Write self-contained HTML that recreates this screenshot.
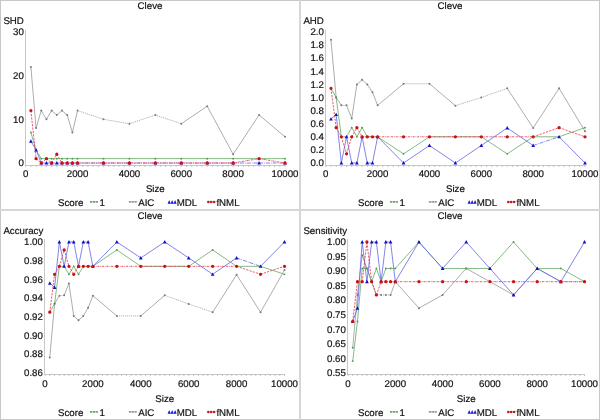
<!DOCTYPE html>
<html><head><meta charset="utf-8"><style>
html,body{margin:0;padding:0;background:#fff;width:600px;height:420px;overflow:hidden;}
svg{display:block;}
.t{will-change:transform;}
svg text{font-family:"Liberation Sans",sans-serif;font-size:9.7px;fill:#141414;stroke:#141414;stroke-width:0.2px;text-rendering:geometricPrecision;}
</style></head><body>
<svg width="600" height="420" viewBox="0 0 600 420" style="will-change:transform">
<rect width="600" height="420" fill="#fff"/>
<path d="M25.5 29.5V166" fill="none" stroke="#c8c8c8" stroke-width="1"/>
<path d="M25 165.5H285.5" fill="none" stroke="#c8c8c8" stroke-width="1"/>
<path d="M25.7 165.5v1.4M30.89 165.5v1.4M36.07 165.5v1.4M41.26 165.5v1.4M46.44 165.5v1.4M51.63 165.5v1.4M56.82 165.5v1.4M62 165.5v1.4M67.19 165.5v1.4M72.37 165.5v1.4M77.56 165.5v1.4M82.75 165.5v1.4M87.93 165.5v1.4M93.12 165.5v1.4M98.3 165.5v1.4M103.49 165.5v1.4M108.68 165.5v1.4M113.86 165.5v1.4M119.05 165.5v1.4M124.23 165.5v1.4M129.42 165.5v1.4M134.61 165.5v1.4M139.79 165.5v1.4M144.98 165.5v1.4M150.16 165.5v1.4M155.35 165.5v1.4M160.54 165.5v1.4M165.72 165.5v1.4M170.91 165.5v1.4M176.09 165.5v1.4M181.28 165.5v1.4M186.47 165.5v1.4M191.65 165.5v1.4M196.84 165.5v1.4M202.02 165.5v1.4M207.21 165.5v1.4M212.4 165.5v1.4M217.58 165.5v1.4M222.77 165.5v1.4M227.95 165.5v1.4M233.14 165.5v1.4M238.33 165.5v1.4M243.51 165.5v1.4M248.7 165.5v1.4M253.88 165.5v1.4M259.07 165.5v1.4M264.26 165.5v1.4M269.44 165.5v1.4M274.63 165.5v1.4M279.81 165.5v1.4M285 165.5v1.4" stroke="#b4b4b4" stroke-width="0.9"/>
<text x="150" y="9.3" text-anchor="middle">Cleve</text>
<text x="3.4" y="24.2">SHD</text>
<text x="23.9" y="166.2" text-anchor="end">0</text>
<text x="23.9" y="122.53" text-anchor="end">10</text>
<text x="23.9" y="78.87" text-anchor="end">20</text>
<text x="23.9" y="35.2" text-anchor="end">30</text>
<text x="25.7" y="176.9" text-anchor="middle">0</text>
<text x="77.56" y="176.9" text-anchor="middle">2000</text>
<text x="129.42" y="176.9" text-anchor="middle">4000</text>
<text x="181.28" y="176.9" text-anchor="middle">6000</text>
<text x="233.14" y="176.9" text-anchor="middle">8000</text>
<text x="285" y="176.9" text-anchor="middle">10000</text>
<text x="155.35" y="191.6" text-anchor="middle">Size</text>
<text x="58" y="206.3">Score</text>
<path d="M90 201.9h7.9" stroke="#6fa56f" stroke-width="1.8" stroke-dasharray="2.3 0.5"/>
<text x="99.6" y="206.3">1</text>
<path d="M128.8 201.9h8.2" stroke="#9c9c9c" stroke-width="1.8" stroke-dasharray="2.4 0.4"/>
<text x="138.2" y="206.3">AIC</text>
<path d="M167.6 203.7l1.6 -3.6l1.6 3.6zM170.55 203.7l1.6 -3.6l1.6 3.6zM173.5 203.7l1.6 -3.6l1.6 3.6z" fill="#1818d0"/>
<text x="176.8" y="206.3">MDL</text>
<path d="M207 201.9h8.4" stroke="#f0a0a0" stroke-width="1"/>
<circle cx="208.3" cy="201.9" r="1.25" fill="#c01818"/>
<circle cx="211.2" cy="201.9" r="1.25" fill="#c01818"/>
<circle cx="214.1" cy="201.9" r="1.25" fill="#c01818"/>
<text x="216.4" y="206.3">fNML</text>
<path d="M30.89 66.93L36.07 128.07M36.07 128.07L41.26 110.6M41.26 110.6L46.44 119.33M46.44 119.33L51.63 110.6M51.63 110.6L56.82 114.97M56.82 114.97L62 110.6M62 110.6L67.19 114.97M67.19 114.97L72.37 132.43M72.37 132.43L77.56 110.6M181.28 123.7L207.21 106.23M207.21 106.23L233.14 154.27M233.14 154.27L259.07 114.97M259.07 114.97L285 136.8" fill="none" stroke="#989898" stroke-width="0.8"/>
<path d="M77.56 110.6L103.49 119.33M103.49 119.33L129.42 123.7M129.42 123.7L155.35 114.97M155.35 114.97L181.28 123.7" fill="none" stroke="#989898" stroke-width="0.8" stroke-dasharray="1.1 0.9"/>
<path d="M29.89 66.93a1.0 1.0 0 1 0 2 0a1.0 1.0 0 1 0 -2 0zM35.07 128.07a1.0 1.0 0 1 0 2 0a1.0 1.0 0 1 0 -2 0zM40.26 110.6a1.0 1.0 0 1 0 2 0a1.0 1.0 0 1 0 -2 0zM45.44 119.33a1.0 1.0 0 1 0 2 0a1.0 1.0 0 1 0 -2 0zM50.63 110.6a1.0 1.0 0 1 0 2 0a1.0 1.0 0 1 0 -2 0zM55.82 114.97a1.0 1.0 0 1 0 2 0a1.0 1.0 0 1 0 -2 0zM61 110.6a1.0 1.0 0 1 0 2 0a1.0 1.0 0 1 0 -2 0zM66.19 114.97a1.0 1.0 0 1 0 2 0a1.0 1.0 0 1 0 -2 0zM71.37 132.43a1.0 1.0 0 1 0 2 0a1.0 1.0 0 1 0 -2 0zM76.56 110.6a1.0 1.0 0 1 0 2 0a1.0 1.0 0 1 0 -2 0zM102.49 119.33a1.0 1.0 0 1 0 2 0a1.0 1.0 0 1 0 -2 0zM128.42 123.7a1.0 1.0 0 1 0 2 0a1.0 1.0 0 1 0 -2 0zM154.35 114.97a1.0 1.0 0 1 0 2 0a1.0 1.0 0 1 0 -2 0zM180.28 123.7a1.0 1.0 0 1 0 2 0a1.0 1.0 0 1 0 -2 0zM206.21 106.23a1.0 1.0 0 1 0 2 0a1.0 1.0 0 1 0 -2 0zM232.14 154.27a1.0 1.0 0 1 0 2 0a1.0 1.0 0 1 0 -2 0zM258.07 114.97a1.0 1.0 0 1 0 2 0a1.0 1.0 0 1 0 -2 0zM284 136.8a1.0 1.0 0 1 0 2 0a1.0 1.0 0 1 0 -2 0z" fill="#7a7a7a"/>
<path d="M30.89 132.43L36.07 149.9M36.07 149.9L41.26 158.63M41.26 158.63L46.44 158.63M46.44 158.63L51.63 158.63M51.63 158.63L56.82 158.63M56.82 158.63L62 158.63M62 158.63L67.19 158.63M67.19 158.63L72.37 158.63M72.37 158.63L77.56 158.63M77.56 158.63L103.49 158.63M103.49 158.63L129.42 158.63M129.42 158.63L155.35 158.63M155.35 158.63L181.28 158.63M181.28 158.63L207.21 158.63M207.21 158.63L233.14 158.63M233.14 158.63L259.07 158.63M259.07 158.63L285 158.63" fill="none" stroke="#64aa64" stroke-width="0.8"/>
<path d="M29.99 132.43a0.9 0.9 0 1 0 1.8 0a0.9 0.9 0 1 0 -1.8 0zM35.17 149.9a0.9 0.9 0 1 0 1.8 0a0.9 0.9 0 1 0 -1.8 0zM40.36 158.63a0.9 0.9 0 1 0 1.8 0a0.9 0.9 0 1 0 -1.8 0zM45.54 158.63a0.9 0.9 0 1 0 1.8 0a0.9 0.9 0 1 0 -1.8 0zM50.73 158.63a0.9 0.9 0 1 0 1.8 0a0.9 0.9 0 1 0 -1.8 0zM55.92 158.63a0.9 0.9 0 1 0 1.8 0a0.9 0.9 0 1 0 -1.8 0zM61.1 158.63a0.9 0.9 0 1 0 1.8 0a0.9 0.9 0 1 0 -1.8 0zM66.29 158.63a0.9 0.9 0 1 0 1.8 0a0.9 0.9 0 1 0 -1.8 0zM71.47 158.63a0.9 0.9 0 1 0 1.8 0a0.9 0.9 0 1 0 -1.8 0zM76.66 158.63a0.9 0.9 0 1 0 1.8 0a0.9 0.9 0 1 0 -1.8 0zM102.59 158.63a0.9 0.9 0 1 0 1.8 0a0.9 0.9 0 1 0 -1.8 0zM128.52 158.63a0.9 0.9 0 1 0 1.8 0a0.9 0.9 0 1 0 -1.8 0zM154.45 158.63a0.9 0.9 0 1 0 1.8 0a0.9 0.9 0 1 0 -1.8 0zM180.38 158.63a0.9 0.9 0 1 0 1.8 0a0.9 0.9 0 1 0 -1.8 0zM206.31 158.63a0.9 0.9 0 1 0 1.8 0a0.9 0.9 0 1 0 -1.8 0zM232.24 158.63a0.9 0.9 0 1 0 1.8 0a0.9 0.9 0 1 0 -1.8 0zM258.17 158.63a0.9 0.9 0 1 0 1.8 0a0.9 0.9 0 1 0 -1.8 0zM284.1 158.63a0.9 0.9 0 1 0 1.8 0a0.9 0.9 0 1 0 -1.8 0z" fill="#4a964a"/>
<path d="M30.89 141.17L36.07 149.9M36.07 149.9L41.26 163" fill="none" stroke="#6464e4" stroke-width="0.8"/>
<path d="M41.26 163L46.44 163M46.44 163L51.63 163M51.63 163L56.82 163M56.82 163L62 163M62 163L67.19 163M67.19 163L72.37 163M72.37 163L77.56 163M77.56 163L103.49 163M103.49 163L129.42 163M129.42 163L155.35 163M155.35 163L181.28 163M181.28 163L207.21 163M207.21 163L233.14 163M233.14 163L259.07 163M259.07 163L285 163" fill="none" stroke="#6464e4" stroke-width="0.8" stroke-dasharray="4 1 0.8 1"/>
<path d="M29.04 142.67l1.85 -3.4l1.85 3.4zM34.22 151.4l1.85 -3.4l1.85 3.4zM39.41 164.5l1.85 -3.4l1.85 3.4zM44.59 164.5l1.85 -3.4l1.85 3.4zM49.78 164.5l1.85 -3.4l1.85 3.4zM54.97 164.5l1.85 -3.4l1.85 3.4zM60.15 164.5l1.85 -3.4l1.85 3.4zM65.34 164.5l1.85 -3.4l1.85 3.4zM70.52 164.5l1.85 -3.4l1.85 3.4zM75.71 164.5l1.85 -3.4l1.85 3.4zM101.64 164.5l1.85 -3.4l1.85 3.4zM127.57 164.5l1.85 -3.4l1.85 3.4zM153.5 164.5l1.85 -3.4l1.85 3.4zM179.43 164.5l1.85 -3.4l1.85 3.4zM205.36 164.5l1.85 -3.4l1.85 3.4zM231.29 164.5l1.85 -3.4l1.85 3.4zM257.22 164.5l1.85 -3.4l1.85 3.4zM283.15 164.5l1.85 -3.4l1.85 3.4z" fill="#1010c8"/>
<path d="M62 163L67.19 163M67.19 163L72.37 163M72.37 163L77.56 163M77.56 163L103.49 163M103.49 163L129.42 163M129.42 163L155.35 163M155.35 163L181.28 163M181.28 163L207.21 163M207.21 163L233.14 163M233.14 163L259.07 158.63M259.07 158.63L285 163" fill="none" stroke="#e04050" stroke-width="0.85" stroke-dasharray="2.2 0.8 0.7 0.8"/>
<path d="M30.89 110.6L36.07 158.63M36.07 158.63L41.26 163M41.26 163L46.44 158.63M46.44 158.63L51.63 163M51.63 163L56.82 154.27M56.82 154.27L62 163" fill="none" stroke="#e04050" stroke-width="0.85" stroke-dasharray="2.2 1.2"/>
<path d="M29.24 110.6a1.65 1.65 0 1 0 3.3 0a1.65 1.65 0 1 0 -3.3 0zM34.42 158.63a1.65 1.65 0 1 0 3.3 0a1.65 1.65 0 1 0 -3.3 0zM39.61 163a1.65 1.65 0 1 0 3.3 0a1.65 1.65 0 1 0 -3.3 0zM44.79 158.63a1.65 1.65 0 1 0 3.3 0a1.65 1.65 0 1 0 -3.3 0zM49.98 163a1.65 1.65 0 1 0 3.3 0a1.65 1.65 0 1 0 -3.3 0zM55.17 154.27a1.65 1.65 0 1 0 3.3 0a1.65 1.65 0 1 0 -3.3 0zM60.35 163a1.65 1.65 0 1 0 3.3 0a1.65 1.65 0 1 0 -3.3 0zM65.54 163a1.65 1.65 0 1 0 3.3 0a1.65 1.65 0 1 0 -3.3 0zM70.72 163a1.65 1.65 0 1 0 3.3 0a1.65 1.65 0 1 0 -3.3 0zM75.91 163a1.65 1.65 0 1 0 3.3 0a1.65 1.65 0 1 0 -3.3 0zM101.84 163a1.65 1.65 0 1 0 3.3 0a1.65 1.65 0 1 0 -3.3 0zM127.77 163a1.65 1.65 0 1 0 3.3 0a1.65 1.65 0 1 0 -3.3 0zM153.7 163a1.65 1.65 0 1 0 3.3 0a1.65 1.65 0 1 0 -3.3 0zM179.63 163a1.65 1.65 0 1 0 3.3 0a1.65 1.65 0 1 0 -3.3 0zM205.56 163a1.65 1.65 0 1 0 3.3 0a1.65 1.65 0 1 0 -3.3 0zM231.49 163a1.65 1.65 0 1 0 3.3 0a1.65 1.65 0 1 0 -3.3 0zM257.42 158.63a1.65 1.65 0 1 0 3.3 0a1.65 1.65 0 1 0 -3.3 0zM283.35 163a1.65 1.65 0 1 0 3.3 0a1.65 1.65 0 1 0 -3.3 0z" fill="#d01010"/>
<path d="M325.5 29.5V166" fill="none" stroke="#c8c8c8" stroke-width="1"/>
<path d="M325 165.5H585.5" fill="none" stroke="#c8c8c8" stroke-width="1"/>
<path d="M325.8 165.5v1.4M330.98 165.5v1.4M336.17 165.5v1.4M341.35 165.5v1.4M346.54 165.5v1.4M351.72 165.5v1.4M356.9 165.5v1.4M362.09 165.5v1.4M367.27 165.5v1.4M372.46 165.5v1.4M377.64 165.5v1.4M382.82 165.5v1.4M388.01 165.5v1.4M393.19 165.5v1.4M398.38 165.5v1.4M403.56 165.5v1.4M408.74 165.5v1.4M413.93 165.5v1.4M419.11 165.5v1.4M424.3 165.5v1.4M429.48 165.5v1.4M434.66 165.5v1.4M439.85 165.5v1.4M445.03 165.5v1.4M450.22 165.5v1.4M455.4 165.5v1.4M460.58 165.5v1.4M465.77 165.5v1.4M470.95 165.5v1.4M476.14 165.5v1.4M481.32 165.5v1.4M486.5 165.5v1.4M491.69 165.5v1.4M496.87 165.5v1.4M502.06 165.5v1.4M507.24 165.5v1.4M512.42 165.5v1.4M517.61 165.5v1.4M522.79 165.5v1.4M527.98 165.5v1.4M533.16 165.5v1.4M538.34 165.5v1.4M543.53 165.5v1.4M548.71 165.5v1.4M553.9 165.5v1.4M559.08 165.5v1.4M564.26 165.5v1.4M569.45 165.5v1.4M574.63 165.5v1.4M579.82 165.5v1.4M585 165.5v1.4" stroke="#b4b4b4" stroke-width="0.9"/>
<text x="450" y="9.3" text-anchor="middle">Cleve</text>
<text x="303.4" y="24.2">AHD</text>
<text x="323.9" y="166.2" text-anchor="end">0.0</text>
<text x="323.9" y="153.1" text-anchor="end">0.2</text>
<text x="323.9" y="140" text-anchor="end">0.4</text>
<text x="323.9" y="126.9" text-anchor="end">0.6</text>
<text x="323.9" y="113.8" text-anchor="end">0.8</text>
<text x="323.9" y="100.7" text-anchor="end">1.0</text>
<text x="323.9" y="87.6" text-anchor="end">1.2</text>
<text x="323.9" y="74.5" text-anchor="end">1.4</text>
<text x="323.9" y="61.4" text-anchor="end">1.6</text>
<text x="323.9" y="48.3" text-anchor="end">1.8</text>
<text x="323.9" y="35.2" text-anchor="end">2.0</text>
<text x="325.8" y="176.9" text-anchor="middle">0</text>
<text x="377.64" y="176.9" text-anchor="middle">2000</text>
<text x="429.48" y="176.9" text-anchor="middle">4000</text>
<text x="481.32" y="176.9" text-anchor="middle">6000</text>
<text x="533.16" y="176.9" text-anchor="middle">8000</text>
<text x="585" y="176.9" text-anchor="middle">10000</text>
<text x="455.4" y="191.6" text-anchor="middle">Size</text>
<text x="358" y="206.3">Score</text>
<path d="M390 201.9h7.9" stroke="#6fa56f" stroke-width="1.8" stroke-dasharray="2.3 0.5"/>
<text x="399.6" y="206.3">1</text>
<path d="M428.8 201.9h8.2" stroke="#9c9c9c" stroke-width="1.8" stroke-dasharray="2.4 0.4"/>
<text x="438.2" y="206.3">AIC</text>
<path d="M467.6 203.7l1.6 -3.6l1.6 3.6zM470.55 203.7l1.6 -3.6l1.6 3.6zM473.5 203.7l1.6 -3.6l1.6 3.6z" fill="#1818d0"/>
<text x="476.8" y="206.3">MDL</text>
<path d="M507 201.9h8.4" stroke="#f0a0a0" stroke-width="1"/>
<circle cx="508.3" cy="201.9" r="1.25" fill="#c01818"/>
<circle cx="511.2" cy="201.9" r="1.25" fill="#c01818"/>
<circle cx="514.1" cy="201.9" r="1.25" fill="#c01818"/>
<text x="516.4" y="206.3">fNML</text>
<path d="M330.98 39.86L336.17 97.5M336.17 97.5L341.35 105.36M346.54 105.36L351.72 118.46M351.72 118.46L356.9 84.4M356.9 84.4L362.09 79.81M362.09 79.81L367.27 84.4M367.27 84.4L372.46 92.26M372.46 92.26L377.64 105.36M377.64 105.36L403.56 83.75M429.48 83.75L455.4 105.69M507.24 88.33L533.16 127.96M533.16 127.96L559.08 88.33M559.08 88.33L585 131.23" fill="none" stroke="#989898" stroke-width="0.8"/>
<path d="M341.35 105.36L346.54 105.36M403.56 83.75L429.48 83.75M455.4 105.69L481.32 97.5M481.32 97.5L507.24 88.33" fill="none" stroke="#989898" stroke-width="0.8" stroke-dasharray="1.1 0.9"/>
<path d="M329.98 39.86a1.0 1.0 0 1 0 2 0a1.0 1.0 0 1 0 -2 0zM335.17 97.5a1.0 1.0 0 1 0 2 0a1.0 1.0 0 1 0 -2 0zM340.35 105.36a1.0 1.0 0 1 0 2 0a1.0 1.0 0 1 0 -2 0zM345.54 105.36a1.0 1.0 0 1 0 2 0a1.0 1.0 0 1 0 -2 0zM350.72 118.46a1.0 1.0 0 1 0 2 0a1.0 1.0 0 1 0 -2 0zM355.9 84.4a1.0 1.0 0 1 0 2 0a1.0 1.0 0 1 0 -2 0zM361.09 79.81a1.0 1.0 0 1 0 2 0a1.0 1.0 0 1 0 -2 0zM366.27 84.4a1.0 1.0 0 1 0 2 0a1.0 1.0 0 1 0 -2 0zM371.46 92.26a1.0 1.0 0 1 0 2 0a1.0 1.0 0 1 0 -2 0zM376.64 105.36a1.0 1.0 0 1 0 2 0a1.0 1.0 0 1 0 -2 0zM402.56 83.75a1.0 1.0 0 1 0 2 0a1.0 1.0 0 1 0 -2 0zM428.48 83.75a1.0 1.0 0 1 0 2 0a1.0 1.0 0 1 0 -2 0zM454.4 105.69a1.0 1.0 0 1 0 2 0a1.0 1.0 0 1 0 -2 0zM480.32 97.5a1.0 1.0 0 1 0 2 0a1.0 1.0 0 1 0 -2 0zM506.24 88.33a1.0 1.0 0 1 0 2 0a1.0 1.0 0 1 0 -2 0zM532.16 127.96a1.0 1.0 0 1 0 2 0a1.0 1.0 0 1 0 -2 0zM558.08 88.33a1.0 1.0 0 1 0 2 0a1.0 1.0 0 1 0 -2 0zM584 131.23a1.0 1.0 0 1 0 2 0a1.0 1.0 0 1 0 -2 0z" fill="#7a7a7a"/>
<path d="M330.98 88.33L336.17 97.5M336.17 97.5L341.35 136.8M341.35 136.8L346.54 136.8M346.54 136.8L351.72 127.63M351.72 127.63L356.9 136.8M356.9 136.8L362.09 127.63M362.09 127.63L367.27 136.8M367.27 136.8L372.46 136.8M372.46 136.8L377.64 136.8M377.64 136.8L403.56 153.83M403.56 153.83L429.48 136.8M429.48 136.8L455.4 136.8M455.4 136.8L481.32 136.8M481.32 136.8L507.24 153.83M507.24 153.83L533.16 136.8M533.16 136.8L559.08 136.8M559.08 136.8L585 127.63" fill="none" stroke="#64aa64" stroke-width="0.8"/>
<path d="M330.08 88.33a0.9 0.9 0 1 0 1.8 0a0.9 0.9 0 1 0 -1.8 0zM335.27 97.5a0.9 0.9 0 1 0 1.8 0a0.9 0.9 0 1 0 -1.8 0zM340.45 136.8a0.9 0.9 0 1 0 1.8 0a0.9 0.9 0 1 0 -1.8 0zM345.64 136.8a0.9 0.9 0 1 0 1.8 0a0.9 0.9 0 1 0 -1.8 0zM350.82 127.63a0.9 0.9 0 1 0 1.8 0a0.9 0.9 0 1 0 -1.8 0zM356 136.8a0.9 0.9 0 1 0 1.8 0a0.9 0.9 0 1 0 -1.8 0zM361.19 127.63a0.9 0.9 0 1 0 1.8 0a0.9 0.9 0 1 0 -1.8 0zM366.37 136.8a0.9 0.9 0 1 0 1.8 0a0.9 0.9 0 1 0 -1.8 0zM371.56 136.8a0.9 0.9 0 1 0 1.8 0a0.9 0.9 0 1 0 -1.8 0zM376.74 136.8a0.9 0.9 0 1 0 1.8 0a0.9 0.9 0 1 0 -1.8 0zM402.66 153.83a0.9 0.9 0 1 0 1.8 0a0.9 0.9 0 1 0 -1.8 0zM428.58 136.8a0.9 0.9 0 1 0 1.8 0a0.9 0.9 0 1 0 -1.8 0zM454.5 136.8a0.9 0.9 0 1 0 1.8 0a0.9 0.9 0 1 0 -1.8 0zM480.42 136.8a0.9 0.9 0 1 0 1.8 0a0.9 0.9 0 1 0 -1.8 0zM506.34 153.83a0.9 0.9 0 1 0 1.8 0a0.9 0.9 0 1 0 -1.8 0zM532.26 136.8a0.9 0.9 0 1 0 1.8 0a0.9 0.9 0 1 0 -1.8 0zM558.18 136.8a0.9 0.9 0 1 0 1.8 0a0.9 0.9 0 1 0 -1.8 0zM584.1 127.63a0.9 0.9 0 1 0 1.8 0a0.9 0.9 0 1 0 -1.8 0z" fill="#4a964a"/>
<path d="M330.98 119.11L336.17 114.53M336.17 114.53L341.35 163M341.35 163L346.54 136.8M346.54 136.8L351.72 163M356.9 163L362.09 136.8M362.09 136.8L367.27 163M372.46 163L377.64 136.8M377.64 136.8L403.56 163M403.56 163L429.48 145.51M429.48 145.51L455.4 163M455.4 163L481.32 145.51M481.32 145.51L507.24 127.96M507.24 127.96L533.16 145.51M559.08 136.8L585 163" fill="none" stroke="#6464e4" stroke-width="0.8"/>
<path d="M351.72 163L356.9 163M367.27 163L372.46 163M533.16 145.51L559.08 136.8" fill="none" stroke="#6464e4" stroke-width="0.8" stroke-dasharray="4 1 0.8 1"/>
<path d="M329.13 120.61l1.85 -3.4l1.85 3.4zM334.32 116.03l1.85 -3.4l1.85 3.4zM339.5 164.5l1.85 -3.4l1.85 3.4zM344.69 138.3l1.85 -3.4l1.85 3.4zM349.87 164.5l1.85 -3.4l1.85 3.4zM355.05 164.5l1.85 -3.4l1.85 3.4zM360.24 138.3l1.85 -3.4l1.85 3.4zM365.42 164.5l1.85 -3.4l1.85 3.4zM370.61 164.5l1.85 -3.4l1.85 3.4zM375.79 138.3l1.85 -3.4l1.85 3.4zM401.71 164.5l1.85 -3.4l1.85 3.4zM427.63 147.01l1.85 -3.4l1.85 3.4zM453.55 164.5l1.85 -3.4l1.85 3.4zM479.47 147.01l1.85 -3.4l1.85 3.4zM505.39 129.46l1.85 -3.4l1.85 3.4zM531.31 147.01l1.85 -3.4l1.85 3.4zM557.23 138.3l1.85 -3.4l1.85 3.4zM583.15 164.5l1.85 -3.4l1.85 3.4z" fill="#1010c8"/>
<path d="M362.09 136.8L367.27 136.8M367.27 136.8L372.46 136.8M372.46 136.8L377.64 136.8M377.64 136.8L403.56 136.8M403.56 136.8L429.48 136.8M429.48 136.8L455.4 136.8M455.4 136.8L481.32 136.8M481.32 136.8L507.24 136.8M507.24 136.8L533.16 136.8" fill="none" stroke="#e04050" stroke-width="0.85" stroke-dasharray="2.2 0.8 0.7 0.8"/>
<path d="M330.98 88.33L336.17 127.63M336.17 127.63L341.35 136.8M341.35 136.8L346.54 153.83M346.54 153.83L351.72 136.8M351.72 136.8L356.9 127.63M356.9 127.63L362.09 136.8M533.16 136.8L559.08 127.63M559.08 127.63L585 136.8" fill="none" stroke="#e04050" stroke-width="0.85" stroke-dasharray="2.2 1.2"/>
<path d="M329.33 88.33a1.65 1.65 0 1 0 3.3 0a1.65 1.65 0 1 0 -3.3 0zM334.52 127.63a1.65 1.65 0 1 0 3.3 0a1.65 1.65 0 1 0 -3.3 0zM339.7 136.8a1.65 1.65 0 1 0 3.3 0a1.65 1.65 0 1 0 -3.3 0zM344.89 153.83a1.65 1.65 0 1 0 3.3 0a1.65 1.65 0 1 0 -3.3 0zM350.07 136.8a1.65 1.65 0 1 0 3.3 0a1.65 1.65 0 1 0 -3.3 0zM355.25 127.63a1.65 1.65 0 1 0 3.3 0a1.65 1.65 0 1 0 -3.3 0zM360.44 136.8a1.65 1.65 0 1 0 3.3 0a1.65 1.65 0 1 0 -3.3 0zM365.62 136.8a1.65 1.65 0 1 0 3.3 0a1.65 1.65 0 1 0 -3.3 0zM370.81 136.8a1.65 1.65 0 1 0 3.3 0a1.65 1.65 0 1 0 -3.3 0zM375.99 136.8a1.65 1.65 0 1 0 3.3 0a1.65 1.65 0 1 0 -3.3 0zM401.91 136.8a1.65 1.65 0 1 0 3.3 0a1.65 1.65 0 1 0 -3.3 0zM427.83 136.8a1.65 1.65 0 1 0 3.3 0a1.65 1.65 0 1 0 -3.3 0zM453.75 136.8a1.65 1.65 0 1 0 3.3 0a1.65 1.65 0 1 0 -3.3 0zM479.67 136.8a1.65 1.65 0 1 0 3.3 0a1.65 1.65 0 1 0 -3.3 0zM505.59 136.8a1.65 1.65 0 1 0 3.3 0a1.65 1.65 0 1 0 -3.3 0zM531.51 136.8a1.65 1.65 0 1 0 3.3 0a1.65 1.65 0 1 0 -3.3 0zM557.43 127.63a1.65 1.65 0 1 0 3.3 0a1.65 1.65 0 1 0 -3.3 0zM583.35 136.8a1.65 1.65 0 1 0 3.3 0a1.65 1.65 0 1 0 -3.3 0z" fill="#d01010"/>
<path d="M44.5 239V375" fill="none" stroke="#c8c8c8" stroke-width="1"/>
<path d="M44 374.5H285" fill="none" stroke="#c8c8c8" stroke-width="1"/>
<path d="M45 374.5v1.4M49.79 374.5v1.4M54.58 374.5v1.4M59.37 374.5v1.4M64.16 374.5v1.4M68.95 374.5v1.4M73.74 374.5v1.4M78.53 374.5v1.4M83.32 374.5v1.4M88.11 374.5v1.4M92.9 374.5v1.4M97.69 374.5v1.4M102.48 374.5v1.4M107.27 374.5v1.4M112.06 374.5v1.4M116.85 374.5v1.4M121.64 374.5v1.4M126.43 374.5v1.4M131.22 374.5v1.4M136.01 374.5v1.4M140.8 374.5v1.4M145.59 374.5v1.4M150.38 374.5v1.4M155.17 374.5v1.4M159.96 374.5v1.4M164.75 374.5v1.4M169.54 374.5v1.4M174.33 374.5v1.4M179.12 374.5v1.4M183.91 374.5v1.4M188.7 374.5v1.4M193.49 374.5v1.4M198.28 374.5v1.4M203.07 374.5v1.4M207.86 374.5v1.4M212.65 374.5v1.4M217.44 374.5v1.4M222.23 374.5v1.4M227.02 374.5v1.4M231.81 374.5v1.4M236.6 374.5v1.4M241.39 374.5v1.4M246.18 374.5v1.4M250.97 374.5v1.4M255.76 374.5v1.4M260.55 374.5v1.4M265.34 374.5v1.4M270.13 374.5v1.4M274.92 374.5v1.4M279.71 374.5v1.4M284.5 374.5v1.4" stroke="#b4b4b4" stroke-width="0.9"/>
<text x="150" y="219.3" text-anchor="middle">Cleve</text>
<text x="3.4" y="234.2">Accuracy</text>
<text x="42.9" y="376.2" text-anchor="end">0.86</text>
<text x="42.9" y="357.49" text-anchor="end">0.88</text>
<text x="42.9" y="338.77" text-anchor="end">0.90</text>
<text x="42.9" y="320.06" text-anchor="end">0.92</text>
<text x="42.9" y="301.34" text-anchor="end">0.94</text>
<text x="42.9" y="282.63" text-anchor="end">0.96</text>
<text x="42.9" y="263.91" text-anchor="end">0.98</text>
<text x="42.9" y="245.2" text-anchor="end">1.00</text>
<text x="45" y="386.9" text-anchor="middle">0</text>
<text x="92.9" y="386.9" text-anchor="middle">2000</text>
<text x="140.8" y="386.9" text-anchor="middle">4000</text>
<text x="188.7" y="386.9" text-anchor="middle">6000</text>
<text x="236.6" y="386.9" text-anchor="middle">8000</text>
<text x="284.5" y="386.9" text-anchor="middle">10000</text>
<text x="164.75" y="401.6" text-anchor="middle">Size</text>
<text x="58" y="416.3">Score</text>
<path d="M90 411.9h7.9" stroke="#6fa56f" stroke-width="1.8" stroke-dasharray="2.3 0.5"/>
<text x="99.6" y="416.3">1</text>
<path d="M128.8 411.9h8.2" stroke="#9c9c9c" stroke-width="1.8" stroke-dasharray="2.4 0.4"/>
<text x="138.2" y="416.3">AIC</text>
<path d="M167.6 413.7l1.6 -3.6l1.6 3.6zM170.55 413.7l1.6 -3.6l1.6 3.6zM173.5 413.7l1.6 -3.6l1.6 3.6z" fill="#1818d0"/>
<text x="176.8" y="416.3">MDL</text>
<path d="M207 411.9h8.4" stroke="#f0a0a0" stroke-width="1"/>
<circle cx="208.3" cy="411.9" r="1.25" fill="#c01818"/>
<circle cx="211.2" cy="411.9" r="1.25" fill="#c01818"/>
<circle cx="214.1" cy="411.9" r="1.25" fill="#c01818"/>
<text x="216.4" y="416.3">fNML</text>
<path d="M49.79 357.47L54.58 303.76M54.58 303.76L59.37 295.71M64.16 295.34L68.95 283.55M68.95 283.55L73.74 316.11M73.74 316.11L78.53 320.32M78.53 320.32L83.32 315.92M83.32 315.92L88.11 307.87M88.11 307.87L92.9 295.71M92.9 295.71L116.85 315.92M140.8 315.92L164.75 295.34M212.65 312.18L236.6 274.75M236.6 274.75L260.55 312.18M260.55 312.18L284.5 270.07" fill="none" stroke="#989898" stroke-width="0.8"/>
<path d="M59.37 295.71L64.16 295.34M116.85 315.92L140.8 315.92M164.75 295.34L188.7 304.04M188.7 304.04L212.65 312.18" fill="none" stroke="#989898" stroke-width="0.8" stroke-dasharray="1.1 0.9"/>
<path d="M48.79 357.47a1.0 1.0 0 1 0 2 0a1.0 1.0 0 1 0 -2 0zM53.58 303.76a1.0 1.0 0 1 0 2 0a1.0 1.0 0 1 0 -2 0zM58.37 295.71a1.0 1.0 0 1 0 2 0a1.0 1.0 0 1 0 -2 0zM63.16 295.34a1.0 1.0 0 1 0 2 0a1.0 1.0 0 1 0 -2 0zM67.95 283.55a1.0 1.0 0 1 0 2 0a1.0 1.0 0 1 0 -2 0zM72.74 316.11a1.0 1.0 0 1 0 2 0a1.0 1.0 0 1 0 -2 0zM77.53 320.32a1.0 1.0 0 1 0 2 0a1.0 1.0 0 1 0 -2 0zM82.32 315.92a1.0 1.0 0 1 0 2 0a1.0 1.0 0 1 0 -2 0zM87.11 307.87a1.0 1.0 0 1 0 2 0a1.0 1.0 0 1 0 -2 0zM91.9 295.71a1.0 1.0 0 1 0 2 0a1.0 1.0 0 1 0 -2 0zM115.85 315.92a1.0 1.0 0 1 0 2 0a1.0 1.0 0 1 0 -2 0zM139.8 315.92a1.0 1.0 0 1 0 2 0a1.0 1.0 0 1 0 -2 0zM163.75 295.34a1.0 1.0 0 1 0 2 0a1.0 1.0 0 1 0 -2 0zM187.7 304.04a1.0 1.0 0 1 0 2 0a1.0 1.0 0 1 0 -2 0zM211.65 312.18a1.0 1.0 0 1 0 2 0a1.0 1.0 0 1 0 -2 0zM235.6 274.75a1.0 1.0 0 1 0 2 0a1.0 1.0 0 1 0 -2 0zM259.55 312.18a1.0 1.0 0 1 0 2 0a1.0 1.0 0 1 0 -2 0zM283.5 270.07a1.0 1.0 0 1 0 2 0a1.0 1.0 0 1 0 -2 0z" fill="#7a7a7a"/>
<path d="M49.79 312.18L54.58 303.76M54.58 303.76L59.37 266.33M59.37 266.33L64.16 266.33M64.16 266.33L68.95 274.28M68.95 274.28L73.74 266.33M73.74 266.33L78.53 274.28M78.53 274.28L83.32 266.33M83.32 266.33L88.11 266.33M88.11 266.33L92.9 266.33M92.9 266.33L116.85 249.95M116.85 249.95L140.8 266.33M140.8 266.33L164.75 266.33M164.75 266.33L188.7 266.33M188.7 266.33L212.65 249.95M212.65 249.95L236.6 266.33M236.6 266.33L260.55 266.33M260.55 266.33L284.5 274.28" fill="none" stroke="#64aa64" stroke-width="0.8"/>
<path d="M48.89 312.18a0.9 0.9 0 1 0 1.8 0a0.9 0.9 0 1 0 -1.8 0zM53.68 303.76a0.9 0.9 0 1 0 1.8 0a0.9 0.9 0 1 0 -1.8 0zM58.47 266.33a0.9 0.9 0 1 0 1.8 0a0.9 0.9 0 1 0 -1.8 0zM63.26 266.33a0.9 0.9 0 1 0 1.8 0a0.9 0.9 0 1 0 -1.8 0zM68.05 274.28a0.9 0.9 0 1 0 1.8 0a0.9 0.9 0 1 0 -1.8 0zM72.84 266.33a0.9 0.9 0 1 0 1.8 0a0.9 0.9 0 1 0 -1.8 0zM77.63 274.28a0.9 0.9 0 1 0 1.8 0a0.9 0.9 0 1 0 -1.8 0zM82.42 266.33a0.9 0.9 0 1 0 1.8 0a0.9 0.9 0 1 0 -1.8 0zM87.21 266.33a0.9 0.9 0 1 0 1.8 0a0.9 0.9 0 1 0 -1.8 0zM92 266.33a0.9 0.9 0 1 0 1.8 0a0.9 0.9 0 1 0 -1.8 0zM115.95 249.95a0.9 0.9 0 1 0 1.8 0a0.9 0.9 0 1 0 -1.8 0zM139.9 266.33a0.9 0.9 0 1 0 1.8 0a0.9 0.9 0 1 0 -1.8 0zM163.85 266.33a0.9 0.9 0 1 0 1.8 0a0.9 0.9 0 1 0 -1.8 0zM187.8 266.33a0.9 0.9 0 1 0 1.8 0a0.9 0.9 0 1 0 -1.8 0zM211.75 249.95a0.9 0.9 0 1 0 1.8 0a0.9 0.9 0 1 0 -1.8 0zM235.7 266.33a0.9 0.9 0 1 0 1.8 0a0.9 0.9 0 1 0 -1.8 0zM259.65 266.33a0.9 0.9 0 1 0 1.8 0a0.9 0.9 0 1 0 -1.8 0zM283.6 274.28a0.9 0.9 0 1 0 1.8 0a0.9 0.9 0 1 0 -1.8 0z" fill="#4a964a"/>
<path d="M49.79 283.27L54.58 287.38M54.58 287.38L59.37 242M59.37 242L64.16 266.33M64.16 266.33L68.95 242M73.74 242L78.53 266.33M78.53 266.33L83.32 242M88.11 242L92.9 266.33M92.9 266.33L116.85 242M116.85 242L140.8 257.91M140.8 257.91L164.75 242M164.75 242L188.7 257.91M188.7 257.91L212.65 274.28M212.65 274.28L236.6 257.91M260.55 266.33L284.5 242" fill="none" stroke="#6464e4" stroke-width="0.8"/>
<path d="M68.95 242L73.74 242M83.32 242L88.11 242M236.6 257.91L260.55 266.33" fill="none" stroke="#6464e4" stroke-width="0.8" stroke-dasharray="4 1 0.8 1"/>
<path d="M47.94 284.77l1.85 -3.4l1.85 3.4zM52.73 288.88l1.85 -3.4l1.85 3.4zM57.52 243.5l1.85 -3.4l1.85 3.4zM62.31 267.83l1.85 -3.4l1.85 3.4zM67.1 243.5l1.85 -3.4l1.85 3.4zM71.89 243.5l1.85 -3.4l1.85 3.4zM76.68 267.83l1.85 -3.4l1.85 3.4zM81.47 243.5l1.85 -3.4l1.85 3.4zM86.26 243.5l1.85 -3.4l1.85 3.4zM91.05 267.83l1.85 -3.4l1.85 3.4zM115 243.5l1.85 -3.4l1.85 3.4zM138.95 259.41l1.85 -3.4l1.85 3.4zM162.9 243.5l1.85 -3.4l1.85 3.4zM186.85 259.41l1.85 -3.4l1.85 3.4zM210.8 275.78l1.85 -3.4l1.85 3.4zM234.75 259.41l1.85 -3.4l1.85 3.4zM258.7 267.83l1.85 -3.4l1.85 3.4zM282.65 243.5l1.85 -3.4l1.85 3.4z" fill="#1010c8"/>
<path d="M78.53 266.33L83.32 266.33M83.32 266.33L88.11 266.33M88.11 266.33L92.9 266.33M92.9 266.33L116.85 266.33M116.85 266.33L140.8 266.33M140.8 266.33L164.75 266.33M164.75 266.33L188.7 266.33M188.7 266.33L212.65 266.33M212.65 266.33L236.6 266.33" fill="none" stroke="#e04050" stroke-width="0.85" stroke-dasharray="2.2 0.8 0.7 0.8"/>
<path d="M49.79 312.18L54.58 274.28M54.58 274.28L59.37 266.33M59.37 266.33L64.16 249.95M64.16 249.95L68.95 266.33M68.95 266.33L73.74 274.28M73.74 274.28L78.53 266.33M236.6 266.33L260.55 274.28M260.55 274.28L284.5 266.33" fill="none" stroke="#e04050" stroke-width="0.85" stroke-dasharray="2.2 1.2"/>
<path d="M48.14 312.18a1.65 1.65 0 1 0 3.3 0a1.65 1.65 0 1 0 -3.3 0zM52.93 274.28a1.65 1.65 0 1 0 3.3 0a1.65 1.65 0 1 0 -3.3 0zM57.72 266.33a1.65 1.65 0 1 0 3.3 0a1.65 1.65 0 1 0 -3.3 0zM62.51 249.95a1.65 1.65 0 1 0 3.3 0a1.65 1.65 0 1 0 -3.3 0zM67.3 266.33a1.65 1.65 0 1 0 3.3 0a1.65 1.65 0 1 0 -3.3 0zM72.09 274.28a1.65 1.65 0 1 0 3.3 0a1.65 1.65 0 1 0 -3.3 0zM76.88 266.33a1.65 1.65 0 1 0 3.3 0a1.65 1.65 0 1 0 -3.3 0zM81.67 266.33a1.65 1.65 0 1 0 3.3 0a1.65 1.65 0 1 0 -3.3 0zM86.46 266.33a1.65 1.65 0 1 0 3.3 0a1.65 1.65 0 1 0 -3.3 0zM91.25 266.33a1.65 1.65 0 1 0 3.3 0a1.65 1.65 0 1 0 -3.3 0zM115.2 266.33a1.65 1.65 0 1 0 3.3 0a1.65 1.65 0 1 0 -3.3 0zM139.15 266.33a1.65 1.65 0 1 0 3.3 0a1.65 1.65 0 1 0 -3.3 0zM163.1 266.33a1.65 1.65 0 1 0 3.3 0a1.65 1.65 0 1 0 -3.3 0zM187.05 266.33a1.65 1.65 0 1 0 3.3 0a1.65 1.65 0 1 0 -3.3 0zM211 266.33a1.65 1.65 0 1 0 3.3 0a1.65 1.65 0 1 0 -3.3 0zM234.95 266.33a1.65 1.65 0 1 0 3.3 0a1.65 1.65 0 1 0 -3.3 0zM258.9 274.28a1.65 1.65 0 1 0 3.3 0a1.65 1.65 0 1 0 -3.3 0zM282.85 266.33a1.65 1.65 0 1 0 3.3 0a1.65 1.65 0 1 0 -3.3 0z" fill="#d01010"/>
<path d="M347.5 239V375" fill="none" stroke="#c8c8c8" stroke-width="1"/>
<path d="M347 374.5H585" fill="none" stroke="#c8c8c8" stroke-width="1"/>
<path d="M348 374.5v1.4M352.73 374.5v1.4M357.46 374.5v1.4M362.19 374.5v1.4M366.92 374.5v1.4M371.65 374.5v1.4M376.38 374.5v1.4M381.11 374.5v1.4M385.84 374.5v1.4M390.57 374.5v1.4M395.3 374.5v1.4M400.03 374.5v1.4M404.76 374.5v1.4M409.49 374.5v1.4M414.22 374.5v1.4M418.95 374.5v1.4M423.68 374.5v1.4M428.41 374.5v1.4M433.14 374.5v1.4M437.87 374.5v1.4M442.6 374.5v1.4M447.33 374.5v1.4M452.06 374.5v1.4M456.79 374.5v1.4M461.52 374.5v1.4M466.25 374.5v1.4M470.98 374.5v1.4M475.71 374.5v1.4M480.44 374.5v1.4M485.17 374.5v1.4M489.9 374.5v1.4M494.63 374.5v1.4M499.36 374.5v1.4M504.09 374.5v1.4M508.82 374.5v1.4M513.55 374.5v1.4M518.28 374.5v1.4M523.01 374.5v1.4M527.74 374.5v1.4M532.47 374.5v1.4M537.2 374.5v1.4M541.93 374.5v1.4M546.66 374.5v1.4M551.39 374.5v1.4M556.12 374.5v1.4M560.85 374.5v1.4M565.58 374.5v1.4M570.31 374.5v1.4M575.04 374.5v1.4M579.77 374.5v1.4M584.5 374.5v1.4" stroke="#b4b4b4" stroke-width="0.9"/>
<text x="450" y="219.3" text-anchor="middle">Cleve</text>
<text x="303.4" y="234.2">Sensitivity</text>
<text x="345.9" y="376.2" text-anchor="end">0.55</text>
<text x="345.9" y="361.64" text-anchor="end">0.60</text>
<text x="345.9" y="347.09" text-anchor="end">0.65</text>
<text x="345.9" y="332.53" text-anchor="end">0.70</text>
<text x="345.9" y="317.98" text-anchor="end">0.75</text>
<text x="345.9" y="303.42" text-anchor="end">0.80</text>
<text x="345.9" y="288.87" text-anchor="end">0.85</text>
<text x="345.9" y="274.31" text-anchor="end">0.90</text>
<text x="345.9" y="259.76" text-anchor="end">0.95</text>
<text x="345.9" y="245.2" text-anchor="end">1.00</text>
<text x="348" y="386.9" text-anchor="middle">0</text>
<text x="395.3" y="386.9" text-anchor="middle">2000</text>
<text x="442.6" y="386.9" text-anchor="middle">4000</text>
<text x="489.9" y="386.9" text-anchor="middle">6000</text>
<text x="537.2" y="386.9" text-anchor="middle">8000</text>
<text x="584.5" y="386.9" text-anchor="middle">10000</text>
<text x="466.25" y="401.6" text-anchor="middle">Size</text>
<text x="358" y="416.3">Score</text>
<path d="M390 411.9h7.9" stroke="#6fa56f" stroke-width="1.8" stroke-dasharray="2.3 0.5"/>
<text x="399.6" y="416.3">1</text>
<path d="M428.8 411.9h8.2" stroke="#9c9c9c" stroke-width="1.8" stroke-dasharray="2.4 0.4"/>
<text x="438.2" y="416.3">AIC</text>
<path d="M467.6 413.7l1.6 -3.6l1.6 3.6zM470.55 413.7l1.6 -3.6l1.6 3.6zM473.5 413.7l1.6 -3.6l1.6 3.6z" fill="#1818d0"/>
<text x="476.8" y="416.3">MDL</text>
<path d="M507 411.9h8.4" stroke="#f0a0a0" stroke-width="1"/>
<circle cx="508.3" cy="411.9" r="1.25" fill="#c01818"/>
<circle cx="511.2" cy="411.9" r="1.25" fill="#c01818"/>
<circle cx="514.1" cy="411.9" r="1.25" fill="#c01818"/>
<text x="516.4" y="416.3">fNML</text>
<path d="M352.73 347.86L357.46 294.93M357.46 294.93L362.19 255.23M362.19 255.23L366.92 268.46M366.92 268.46L371.65 281.7M371.65 281.7L376.38 294.93M390.57 294.93L395.3 281.7M395.3 281.7L418.95 308.16M418.95 308.16L442.6 294.93M442.6 294.93L466.25 268.46M466.25 268.46L489.9 281.7M489.9 281.7L513.55 294.93M513.55 294.93L537.2 268.46M537.2 268.46L560.85 281.7" fill="none" stroke="#989898" stroke-width="0.8"/>
<path d="M376.38 294.93L381.11 294.93M381.11 294.93L385.84 294.93M385.84 294.93L390.57 294.93M560.85 281.7L584.5 281.7" fill="none" stroke="#989898" stroke-width="0.8" stroke-dasharray="1.1 0.9"/>
<path d="M351.73 347.86a1.0 1.0 0 1 0 2 0a1.0 1.0 0 1 0 -2 0zM356.46 294.93a1.0 1.0 0 1 0 2 0a1.0 1.0 0 1 0 -2 0zM361.19 255.23a1.0 1.0 0 1 0 2 0a1.0 1.0 0 1 0 -2 0zM365.92 268.46a1.0 1.0 0 1 0 2 0a1.0 1.0 0 1 0 -2 0zM370.65 281.7a1.0 1.0 0 1 0 2 0a1.0 1.0 0 1 0 -2 0zM375.38 294.93a1.0 1.0 0 1 0 2 0a1.0 1.0 0 1 0 -2 0zM380.11 294.93a1.0 1.0 0 1 0 2 0a1.0 1.0 0 1 0 -2 0zM384.84 294.93a1.0 1.0 0 1 0 2 0a1.0 1.0 0 1 0 -2 0zM389.57 294.93a1.0 1.0 0 1 0 2 0a1.0 1.0 0 1 0 -2 0zM394.3 281.7a1.0 1.0 0 1 0 2 0a1.0 1.0 0 1 0 -2 0zM417.95 308.16a1.0 1.0 0 1 0 2 0a1.0 1.0 0 1 0 -2 0zM441.6 294.93a1.0 1.0 0 1 0 2 0a1.0 1.0 0 1 0 -2 0zM465.25 268.46a1.0 1.0 0 1 0 2 0a1.0 1.0 0 1 0 -2 0zM488.9 281.7a1.0 1.0 0 1 0 2 0a1.0 1.0 0 1 0 -2 0zM512.55 294.93a1.0 1.0 0 1 0 2 0a1.0 1.0 0 1 0 -2 0zM536.2 268.46a1.0 1.0 0 1 0 2 0a1.0 1.0 0 1 0 -2 0zM559.85 281.7a1.0 1.0 0 1 0 2 0a1.0 1.0 0 1 0 -2 0zM583.5 281.7a1.0 1.0 0 1 0 2 0a1.0 1.0 0 1 0 -2 0z" fill="#7a7a7a"/>
<path d="M352.73 361.09L357.46 321.39M357.46 321.39L362.19 268.46M362.19 268.46L366.92 268.46M366.92 268.46L371.65 281.7M371.65 281.7L376.38 268.46M376.38 268.46L381.11 281.7M381.11 281.7L385.84 268.46M385.84 268.46L390.57 268.46M390.57 268.46L395.3 268.46M395.3 268.46L418.95 242M418.95 242L442.6 268.46M442.6 268.46L466.25 268.46M466.25 268.46L489.9 268.46M489.9 268.46L513.55 242M513.55 242L537.2 268.46M537.2 268.46L560.85 268.46M560.85 268.46L584.5 281.7" fill="none" stroke="#64aa64" stroke-width="0.8"/>
<path d="M351.83 361.09a0.9 0.9 0 1 0 1.8 0a0.9 0.9 0 1 0 -1.8 0zM356.56 321.39a0.9 0.9 0 1 0 1.8 0a0.9 0.9 0 1 0 -1.8 0zM361.29 268.46a0.9 0.9 0 1 0 1.8 0a0.9 0.9 0 1 0 -1.8 0zM366.02 268.46a0.9 0.9 0 1 0 1.8 0a0.9 0.9 0 1 0 -1.8 0zM370.75 281.7a0.9 0.9 0 1 0 1.8 0a0.9 0.9 0 1 0 -1.8 0zM375.48 268.46a0.9 0.9 0 1 0 1.8 0a0.9 0.9 0 1 0 -1.8 0zM380.21 281.7a0.9 0.9 0 1 0 1.8 0a0.9 0.9 0 1 0 -1.8 0zM384.94 268.46a0.9 0.9 0 1 0 1.8 0a0.9 0.9 0 1 0 -1.8 0zM389.67 268.46a0.9 0.9 0 1 0 1.8 0a0.9 0.9 0 1 0 -1.8 0zM394.4 268.46a0.9 0.9 0 1 0 1.8 0a0.9 0.9 0 1 0 -1.8 0zM418.05 242a0.9 0.9 0 1 0 1.8 0a0.9 0.9 0 1 0 -1.8 0zM441.7 268.46a0.9 0.9 0 1 0 1.8 0a0.9 0.9 0 1 0 -1.8 0zM465.35 268.46a0.9 0.9 0 1 0 1.8 0a0.9 0.9 0 1 0 -1.8 0zM489 268.46a0.9 0.9 0 1 0 1.8 0a0.9 0.9 0 1 0 -1.8 0zM512.65 242a0.9 0.9 0 1 0 1.8 0a0.9 0.9 0 1 0 -1.8 0zM536.3 268.46a0.9 0.9 0 1 0 1.8 0a0.9 0.9 0 1 0 -1.8 0zM559.95 268.46a0.9 0.9 0 1 0 1.8 0a0.9 0.9 0 1 0 -1.8 0zM583.6 281.7a0.9 0.9 0 1 0 1.8 0a0.9 0.9 0 1 0 -1.8 0z" fill="#4a964a"/>
<path d="M352.73 321.39L357.46 308.16M357.46 308.16L362.19 242M362.19 242L366.92 281.7M366.92 281.7L371.65 242M376.38 242L381.11 281.7M381.11 281.7L385.84 242M390.57 242L395.3 281.7M395.3 281.7L418.95 242M418.95 242L442.6 268.46M442.6 268.46L466.25 242M466.25 242L489.9 268.46M489.9 268.46L513.55 294.93M513.55 294.93L537.2 268.46M537.2 268.46L560.85 281.7M560.85 281.7L584.5 242" fill="none" stroke="#6464e4" stroke-width="0.8"/>
<path d="M371.65 242L376.38 242M385.84 242L390.57 242" fill="none" stroke="#6464e4" stroke-width="0.8" stroke-dasharray="4 1 0.8 1"/>
<path d="M350.88 322.89l1.85 -3.4l1.85 3.4zM355.61 309.66l1.85 -3.4l1.85 3.4zM360.34 243.5l1.85 -3.4l1.85 3.4zM365.07 283.2l1.85 -3.4l1.85 3.4zM369.8 243.5l1.85 -3.4l1.85 3.4zM374.53 243.5l1.85 -3.4l1.85 3.4zM379.26 283.2l1.85 -3.4l1.85 3.4zM383.99 243.5l1.85 -3.4l1.85 3.4zM388.72 243.5l1.85 -3.4l1.85 3.4zM393.45 283.2l1.85 -3.4l1.85 3.4zM417.1 243.5l1.85 -3.4l1.85 3.4zM440.75 269.96l1.85 -3.4l1.85 3.4zM464.4 243.5l1.85 -3.4l1.85 3.4zM488.05 269.96l1.85 -3.4l1.85 3.4zM511.7 296.43l1.85 -3.4l1.85 3.4zM535.35 269.96l1.85 -3.4l1.85 3.4zM559 283.2l1.85 -3.4l1.85 3.4zM582.65 243.5l1.85 -3.4l1.85 3.4z" fill="#1010c8"/>
<path d="M357.46 281.7L362.19 281.7M381.11 281.7L385.84 281.7M385.84 281.7L390.57 281.7M390.57 281.7L395.3 281.7M395.3 281.7L418.95 281.7M418.95 281.7L442.6 281.7M442.6 281.7L466.25 281.7M466.25 281.7L489.9 281.7M489.9 281.7L513.55 281.7M513.55 281.7L537.2 281.7M537.2 281.7L560.85 281.7M560.85 281.7L584.5 281.7" fill="none" stroke="#e04050" stroke-width="0.85" stroke-dasharray="2.2 0.8 0.7 0.8"/>
<path d="M352.73 321.39L357.46 281.7M362.19 281.7L366.92 242M366.92 242L371.65 281.7M371.65 281.7L376.38 294.93M376.38 294.93L381.11 281.7" fill="none" stroke="#e04050" stroke-width="0.85" stroke-dasharray="2.2 1.2"/>
<path d="M351.08 321.39a1.65 1.65 0 1 0 3.3 0a1.65 1.65 0 1 0 -3.3 0zM355.81 281.7a1.65 1.65 0 1 0 3.3 0a1.65 1.65 0 1 0 -3.3 0zM360.54 281.7a1.65 1.65 0 1 0 3.3 0a1.65 1.65 0 1 0 -3.3 0zM365.27 242a1.65 1.65 0 1 0 3.3 0a1.65 1.65 0 1 0 -3.3 0zM370 281.7a1.65 1.65 0 1 0 3.3 0a1.65 1.65 0 1 0 -3.3 0zM374.73 294.93a1.65 1.65 0 1 0 3.3 0a1.65 1.65 0 1 0 -3.3 0zM379.46 281.7a1.65 1.65 0 1 0 3.3 0a1.65 1.65 0 1 0 -3.3 0zM384.19 281.7a1.65 1.65 0 1 0 3.3 0a1.65 1.65 0 1 0 -3.3 0zM388.92 281.7a1.65 1.65 0 1 0 3.3 0a1.65 1.65 0 1 0 -3.3 0zM393.65 281.7a1.65 1.65 0 1 0 3.3 0a1.65 1.65 0 1 0 -3.3 0zM417.3 281.7a1.65 1.65 0 1 0 3.3 0a1.65 1.65 0 1 0 -3.3 0zM440.95 281.7a1.65 1.65 0 1 0 3.3 0a1.65 1.65 0 1 0 -3.3 0zM464.6 281.7a1.65 1.65 0 1 0 3.3 0a1.65 1.65 0 1 0 -3.3 0zM488.25 281.7a1.65 1.65 0 1 0 3.3 0a1.65 1.65 0 1 0 -3.3 0zM511.9 281.7a1.65 1.65 0 1 0 3.3 0a1.65 1.65 0 1 0 -3.3 0zM535.55 281.7a1.65 1.65 0 1 0 3.3 0a1.65 1.65 0 1 0 -3.3 0zM559.2 281.7a1.65 1.65 0 1 0 3.3 0a1.65 1.65 0 1 0 -3.3 0zM582.85 281.7a1.65 1.65 0 1 0 3.3 0a1.65 1.65 0 1 0 -3.3 0z" fill="#d01010"/>
<g fill="#c8c8c8">
<rect x="0" y="0" width="600" height="1"/>
<rect x="0" y="419" width="600" height="1"/>
<rect x="0" y="0" width="1" height="420"/>
<rect x="599" y="0" width="1" height="420"/>
<rect x="299" y="0" width="2" height="420" fill="#d6d6d6"/>
<rect x="0" y="209" width="600" height="2" fill="#d6d6d6"/>
</g>
</svg>
</body></html>
